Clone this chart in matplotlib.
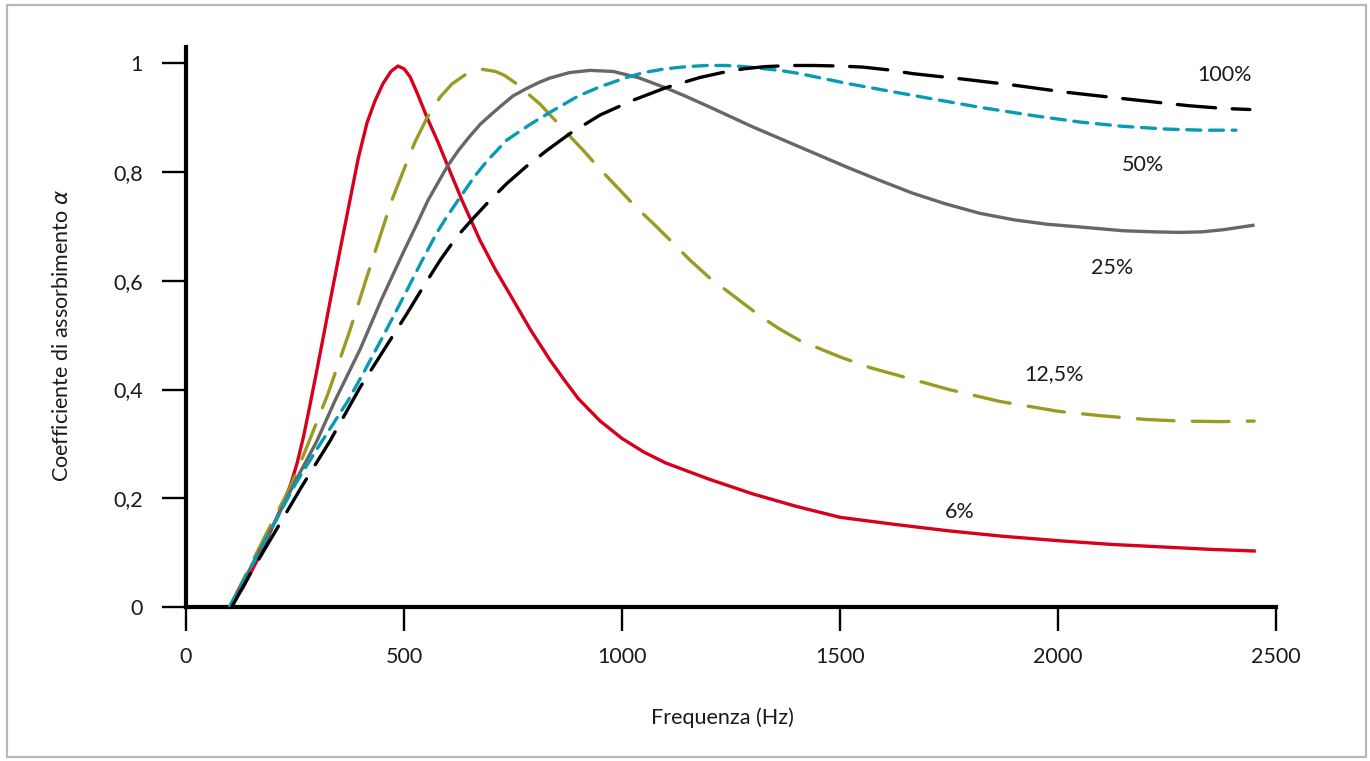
import matplotlib
matplotlib.use("Agg")
import matplotlib.pyplot as plt
from matplotlib.patches import Rectangle

plt.rcParams['font.family'] = ['Lato', 'DejaVu Sans']
plt.rcParams['mathtext.fontset'] = 'dejavusans'

# ---- data ----
freq_6 = [105, 130, 150, 175, 200, 220, 240, 255, 270, 284, 300, 315, 330, 353, 376, 395,
          415, 433, 452, 470, 486, 500, 514, 532, 553, 578, 601, 633, 674, 710, 743, 790,
          835, 870, 900, 950, 1000, 1050, 1100, 1200, 1300, 1400, 1500, 1625, 1750, 1875,
          2000, 2125, 2250, 2350, 2450]
alpha_6 = [0.005, 0.035, 0.065, 0.105, 0.15, 0.185, 0.225, 0.265, 0.315, 0.37, 0.435,
           0.497, 0.56, 0.655, 0.748, 0.825, 0.89, 0.93, 0.963, 0.985, 0.995, 0.99, 0.975,
           0.942, 0.90, 0.855, 0.81, 0.748, 0.675, 0.62, 0.575, 0.51, 0.454, 0.415, 0.383,
           0.342, 0.31, 0.285, 0.265, 0.235, 0.208, 0.185, 0.165, 0.152, 0.14, 0.13, 0.122,
           0.115, 0.11, 0.106, 0.103]

freq_12 = [100, 150, 200, 239, 280, 326, 376, 420, 472, 500, 525, 553, 583, 610, 644, 679,
           710, 730, 750, 770, 790, 812, 835, 860, 885, 911, 950, 995, 1030, 1071, 1110,
           1156, 1200, 1248, 1317, 1360, 1408, 1500, 1570, 1638, 1750, 1867, 2000, 2096,
           2200, 2280, 2370, 2450]
alpha_12 = [0.0, 0.08, 0.16, 0.22, 0.30, 0.393, 0.509, 0.62, 0.748, 0.805, 0.855, 0.90,
            0.938, 0.962, 0.981, 0.989, 0.985, 0.978, 0.967, 0.955, 0.94, 0.925, 0.905,
            0.884, 0.862, 0.84, 0.805, 0.767, 0.737, 0.706, 0.675, 0.638, 0.606, 0.577,
            0.535, 0.512, 0.49, 0.46, 0.44, 0.425, 0.40, 0.378, 0.36, 0.352, 0.345, 0.342,
            0.341, 0.342]

freq_25 = [100, 150, 200, 250, 300, 342, 400, 448, 500, 530, 555, 599, 625, 650, 675, 700,
           720, 750, 782, 810, 835, 880, 927, 980, 1040, 1103, 1150, 1200, 1300, 1408, 1516,
           1590, 1667, 1740, 1821, 1900, 1975, 2050, 2150, 2220, 2280, 2330, 2380, 2447]
alpha_25 = [0.0, 0.075, 0.15, 0.23, 0.305, 0.38, 0.475, 0.565, 0.655, 0.705, 0.748, 0.81,
            0.84, 0.865, 0.888, 0.906, 0.92, 0.94, 0.954, 0.965, 0.973, 0.983, 0.987, 0.985,
            0.973, 0.954, 0.938, 0.92, 0.883, 0.846, 0.809, 0.785, 0.761, 0.742, 0.724,
            0.712, 0.704, 0.699, 0.692, 0.69, 0.689, 0.69, 0.694, 0.702]

freq_50 = [100, 150, 200, 250, 300, 340, 372, 410, 450, 500, 540, 575, 600, 624, 660, 690,
           736, 790, 835, 900, 950, 1011, 1050, 1100, 1150, 1195, 1240, 1280, 1362, 1408,
           1516, 1667, 1821, 1950, 2050, 2150, 2250, 2330, 2408]
alpha_50 = [0.0, 0.075, 0.15, 0.225, 0.29, 0.34, 0.38, 0.435, 0.495, 0.572, 0.635, 0.688,
            0.72, 0.748, 0.79, 0.82, 0.859, 0.888, 0.91, 0.94, 0.957, 0.974, 0.983, 0.99,
            0.994, 0.996, 0.996, 0.994, 0.987, 0.981, 0.963, 0.941, 0.919, 0.903, 0.892,
            0.884, 0.879, 0.877, 0.877]

freq_100 = [105, 150, 204, 265, 330, 400, 450, 507, 545, 583, 621, 660, 697, 736, 780, 828,
            881, 950, 1025, 1100, 1179, 1230, 1280, 1330, 1392, 1438, 1500, 1553, 1610, 1667,
            1782, 1897, 2016, 2150, 2300, 2380, 2440]
alpha_100 = [0.0, 0.065, 0.138, 0.221, 0.305, 0.405, 0.468, 0.54, 0.59, 0.638, 0.681, 0.716,
             0.748, 0.779, 0.81, 0.84, 0.871, 0.905, 0.932, 0.955, 0.974, 0.983, 0.99, 0.994,
             0.996, 0.996, 0.995, 0.993, 0.988, 0.981, 0.971, 0.96, 0.947, 0.935, 0.922,
             0.917, 0.915]

curve_labels = ["6%", "12,5%", "25%", "50%", "100%"]
x_ticks = [0, 500, 1000, 1500, 2000, 2500]
y_ticks = [0, 0.2, 0.4, 0.6, 0.8, 1.0]
y_tick_labels = ["0", "0,2", "0,4", "0,6", "0,8", "1"]

# ---- figure ----
fig = plt.figure(figsize=(13.7, 7.61), dpi=100)
fig.patches.append(Rectangle((7 / 1370, 4 / 761), 1359 / 1370, 752 / 761,
                             transform=fig.transFigure, fill=False,
                             edgecolor='#b8b8b8', linewidth=1.6, zorder=0))

ax = fig.add_axes([186 / 1370, (761 - 607) / 761, 1090 / 1370, 560 / 761])

lw = 2.4
ax.plot(freq_6, alpha_6, color='#d7001d', lw=lw, solid_joinstyle='round', zorder=3)
ax.plot(freq_12, alpha_12, color='#9a9c22', lw=lw, dashes=(11, 5.5),
        dash_capstyle='round', dash_joinstyle='round', zorder=3)
ax.plot(freq_25, alpha_25, color='#676767', lw=lw, solid_joinstyle='round', zorder=3)
ax.plot(freq_50, alpha_50, color='#0a9bb4', lw=lw, dashes=(4.2, 2.6),
        dash_capstyle='round', dash_joinstyle='round', zorder=3)
ax.plot(freq_100, alpha_100, color='#000000', lw=lw, dashes=(11.5, 5),
        dash_capstyle='round', dash_joinstyle='round', zorder=3)

fs = 15.5
label_pos = [(1775, 0.175), (1991, 0.428), (2124, 0.623), (2195, 0.8125), (2383, 0.978)]
for txt, (lx, ly) in zip(curve_labels, label_pos):
    ax.text(lx, ly, txt, fontsize=fs, ha='center', va='center', color='#1a1a1a')

ax.set_xlim(0, 2500)
ax.set_ylim(0, 1.03)
ax.set_xticks(x_ticks)
ax.set_xticklabels([str(t) for t in x_ticks])
ax.set_yticks(y_ticks)
ax.set_yticklabels(y_tick_labels)

for s in ['top', 'right']:
    ax.spines[s].set_visible(False)
for s in ['left', 'bottom']:
    ax.spines[s].set_linewidth(3)
    ax.spines[s].set_color('black')

ax.tick_params(axis='both', direction='out', length=17, width=1.7, colors='black',
               labelsize=fs, labelcolor='#1a1a1a')
ax.tick_params(axis='x', pad=12)
ax.tick_params(axis='y', pad=14)

ax.set_xlabel("Frequenza (Hz)", fontsize=fs, color='#1a1a1a')
ax.xaxis.set_label_coords((722 - 186) / 1090, (607 - 718) / 560)
ax.xaxis.label.set_va('center')
ax.set_ylabel("Coefficiente di assorbimento $\\alpha$", fontsize=fs, color='#1a1a1a')
ax.yaxis.set_label_coords((62 - 186) / 1090, (607 - 335) / 560)
ax.yaxis.label.set_va('center')

fig.savefig("out.png", dpi=100)
